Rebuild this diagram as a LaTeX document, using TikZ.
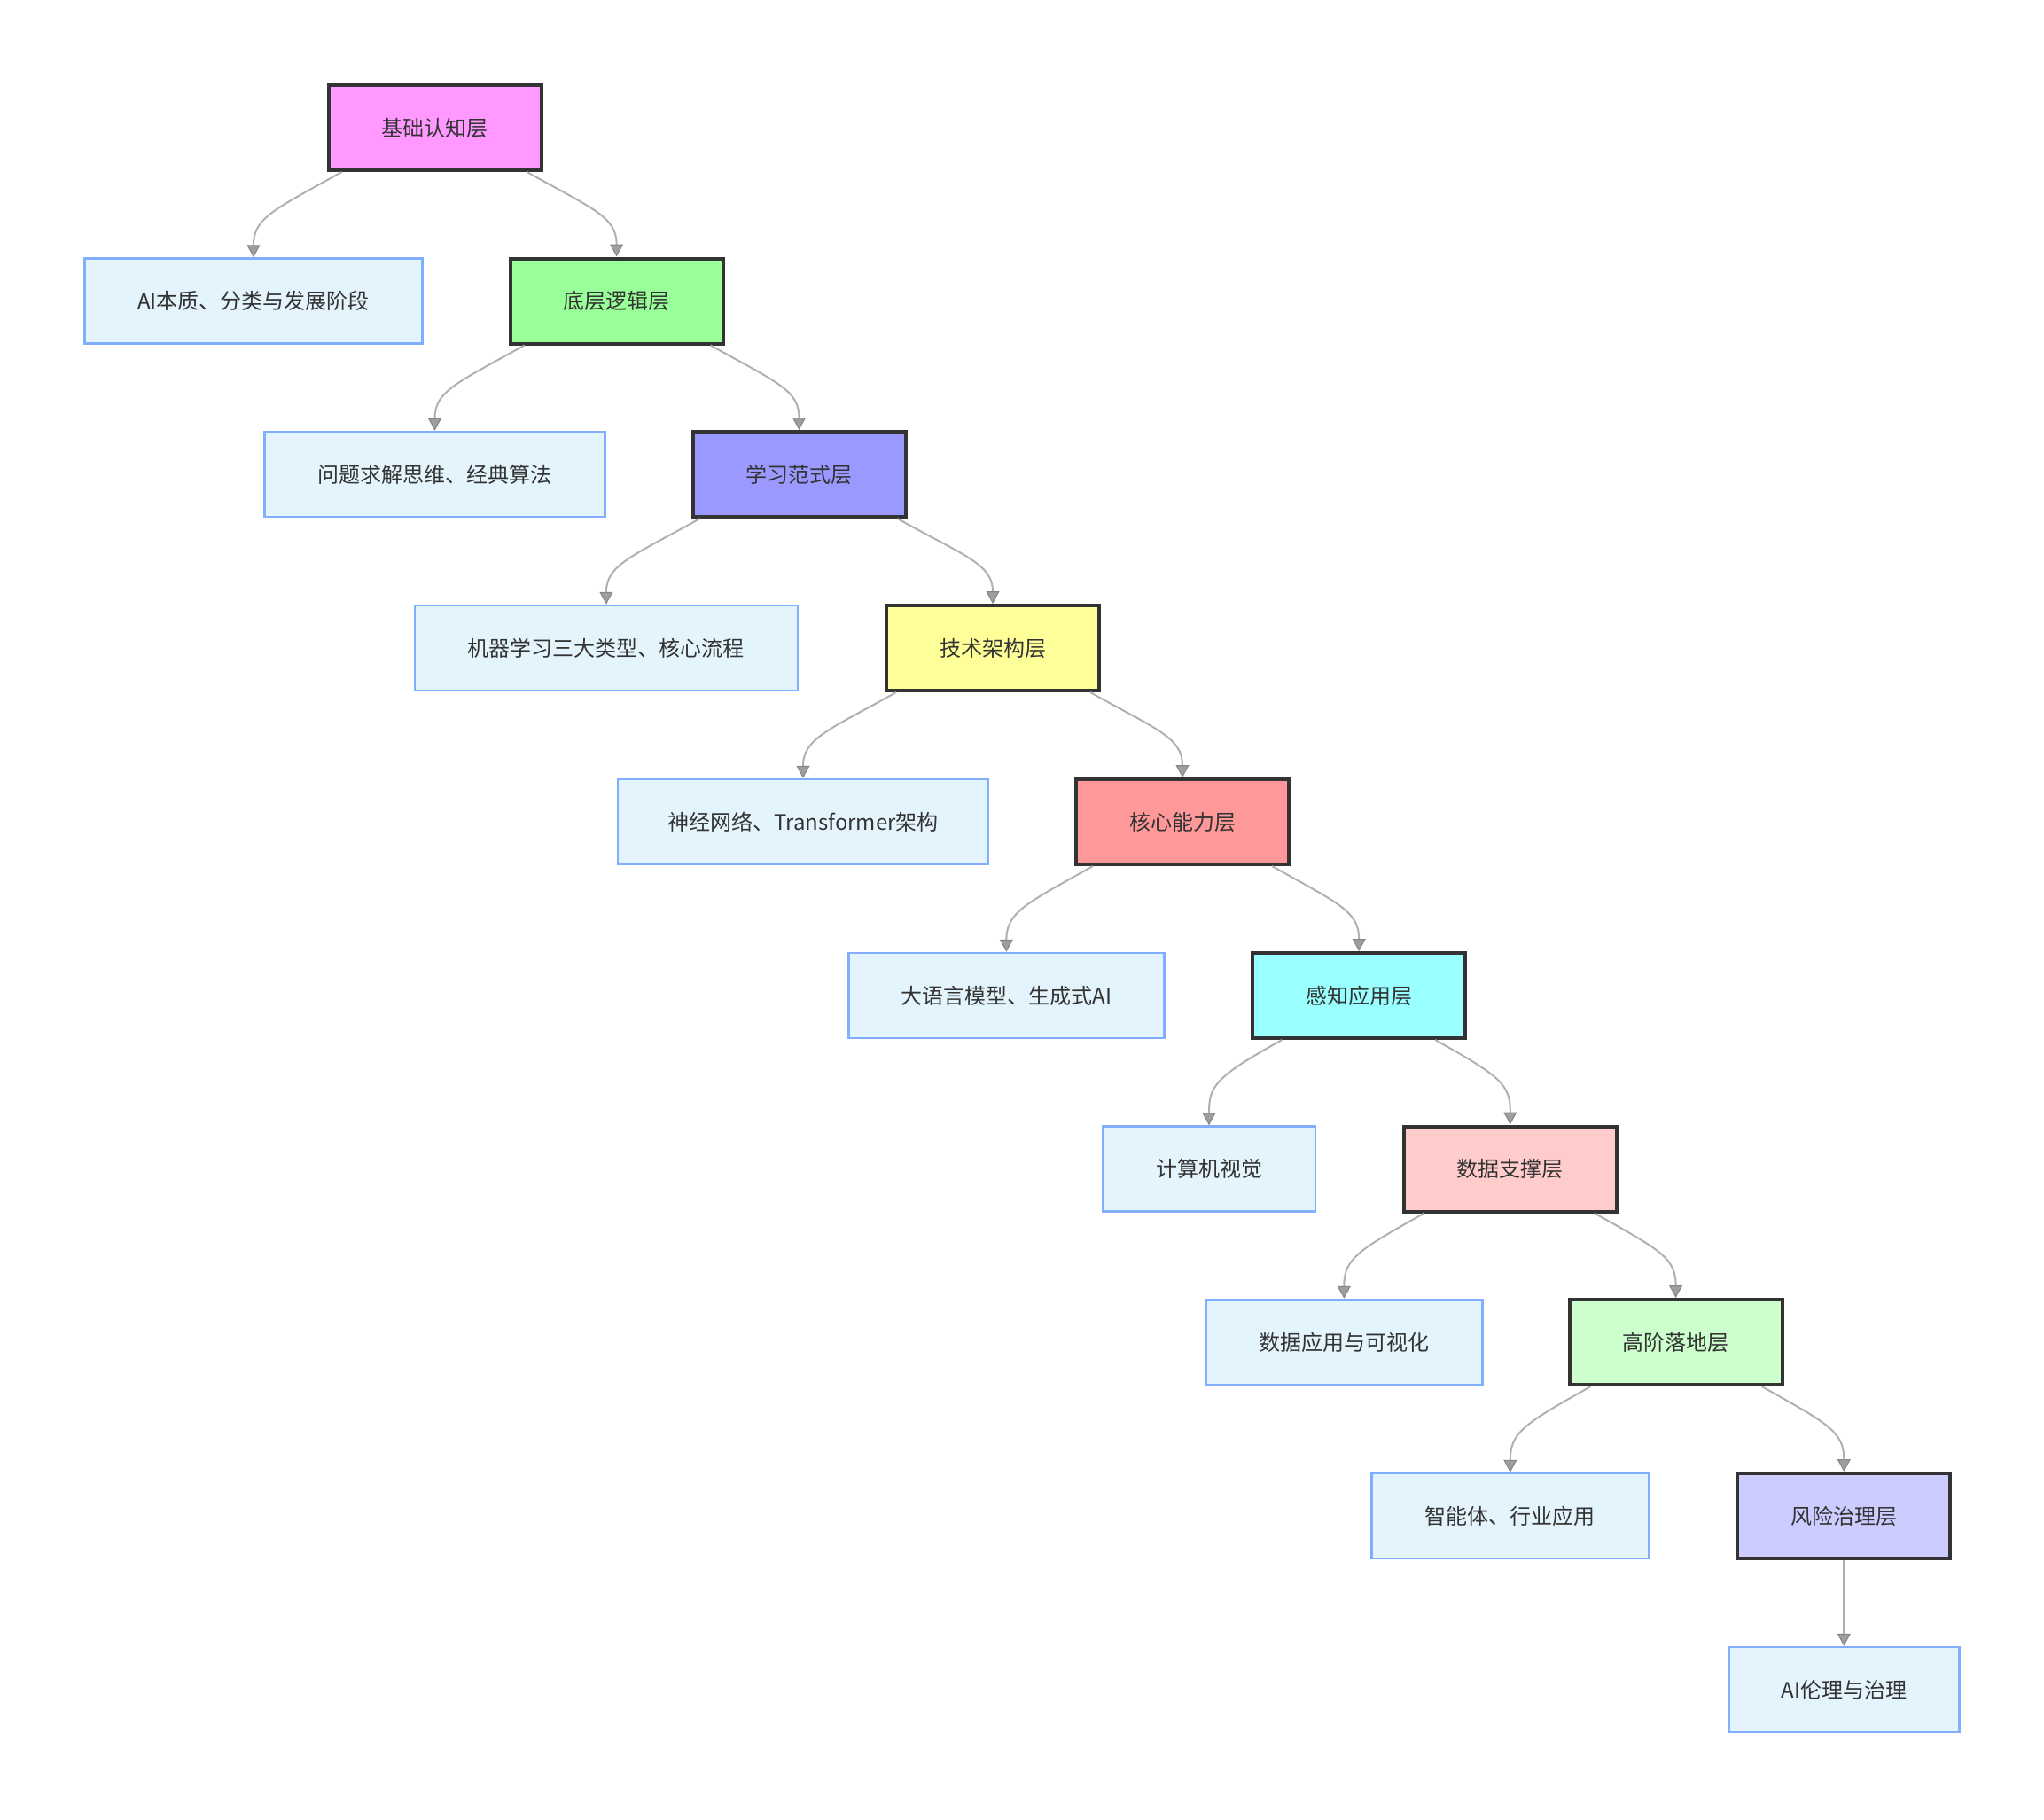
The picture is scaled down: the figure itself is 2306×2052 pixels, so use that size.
\documentclass[tikz,border=0pt]{standalone}
\usepackage{fontspec}
\newfontfamily\cjk{Noto Sans CJK SC}
\usetikzlibrary{arrows.meta,calc}
\definecolor{txt}{HTML}{333333}
\definecolor{lfill}{HTML}{E3F4FD}
\definecolor{lline}{HTML}{82AEFF}
\definecolor{eline}{HTML}{B0B0B0}
\definecolor{ahead}{HTML}{9E9E9E}
\definecolor{cA}{HTML}{FF99FF}
\definecolor{cB}{HTML}{99FF99}
\definecolor{cC}{HTML}{9999FF}
\definecolor{cD}{HTML}{FFFF99}
\definecolor{cE}{HTML}{FF9999}
\definecolor{cF}{HTML}{99FFFF}
\definecolor{cG}{HTML}{FFCCCC}
\definecolor{cH}{HTML}{CCFFCC}
\definecolor{cI}{HTML}{CCCCFF}
\tikzset{
  layer/.style={draw=txt, line width=4pt, minimum width=240pt, minimum height=96pt,
    inner sep=0pt, text=txt, font=\cjk\fontsize{24}{28}\selectfont},
  leaf/.style={draw=lline, fill=lfill, line width=2.5pt, minimum height=96pt,
    inner sep=0pt, text=txt, font=\cjk\fontsize{24}{28}\selectfont},
  edge/.style={draw=eline, line width=2pt,
    -{Triangle[width=15pt,length=14pt,fill=ahead,color=ahead!85!black,line width=1pt]}},
}
% #1 parent, #2 child, #3 inward offset of the start from the parent's corner
\newcommand\leftedge[3]{\draw[edge] ($(#1.south west)+(#3,0)$) .. controls ($(#1.south west)+(#3-75,42)$) and ($(#2.north)+(0,-45)$) .. (#2.north);}
\newcommand\rightedge[3]{\draw[edge] ($(#1.south east)+(-#3,0)$) .. controls ($(#1.south east)+(75-#3,42)$) and ($(#2.north)+(0,-45)$) .. (#2.north);}
\begin{document}
\begin{tikzpicture}[x=1pt,y=-1pt]
\useasboundingbox[fill=white] (0,0) rectangle (2306,2052);
% layers
\node[layer, fill=cA] (L1) at (490.5,144) {基础认知层};
\node[layer, fill=cB] (L2) at (695.6,339.5) {底层逻辑层};
\node[layer, fill=cC] (L3) at (901.5,535) {学习范式层};
\node[layer, fill=cD] (L4) at (1120,731) {技术架构层};
\node[layer, fill=cE] (L5) at (1334,927) {核心能力层};
\node[layer, fill=cF] (L6) at (1533.2,1123) {感知应用层};
\node[layer, fill=cG] (L7) at (1703.8,1318.5) {数据支撑层};
\node[layer, fill=cH] (L8) at (1890.6,1514) {高阶落地层};
\node[layer, fill=cI] (L9) at (2080.3,1710) {风险治理层};
% leaves
\node[leaf, minimum width=381pt] (A1) at (286,339.5) {AI本质、分类与发展阶段};
\node[leaf, minimum width=384pt] (A2) at (490.5,535) {问题求解思维、经典算法};
\node[leaf, minimum width=432pt] (A3) at (683.9,731) {机器学习三大类型、核心流程};
\node[leaf, minimum width=418pt] (A4) at (906,927) {神经网络、Transformer架构};
\node[leaf, minimum width=356pt] (A5) at (1135.4,1123) {大语言模型、生成式AI};
\node[leaf, minimum width=240pt] (A6) at (1364,1318.5) {计算机视觉};
\node[leaf, minimum width=312pt] (A7) at (1516.3,1514) {数据应用与可视化};
\node[leaf, minimum width=313pt] (A8) at (1703.8,1710) {智能体、行业应用};
\node[leaf, minimum width=260pt] (A9) at (2080.3,1906) {AI伦理与治理};
% edges
\leftedge{L1}{A1}{17} \rightedge{L1}{L2}{18}
\leftedge{L2}{A2}{18} \rightedge{L2}{L3}{16}
\leftedge{L3}{A3}{10} \rightedge{L3}{L4}{11}
\leftedge{L4}{A4}{13} \rightedge{L4}{L5}{12}
\leftedge{L5}{A5}{21} \rightedge{L5}{L6}{21}
\leftedge{L6}{A6}{35} \rightedge{L6}{L7}{36}
\leftedge{L7}{A7}{25} \rightedge{L7}{L8}{27}
\leftedge{L8}{A8}{26} \rightedge{L8}{L9}{25}
\draw[edge] (L9.south) -- (A9.north);
\end{tikzpicture}
\end{document}
